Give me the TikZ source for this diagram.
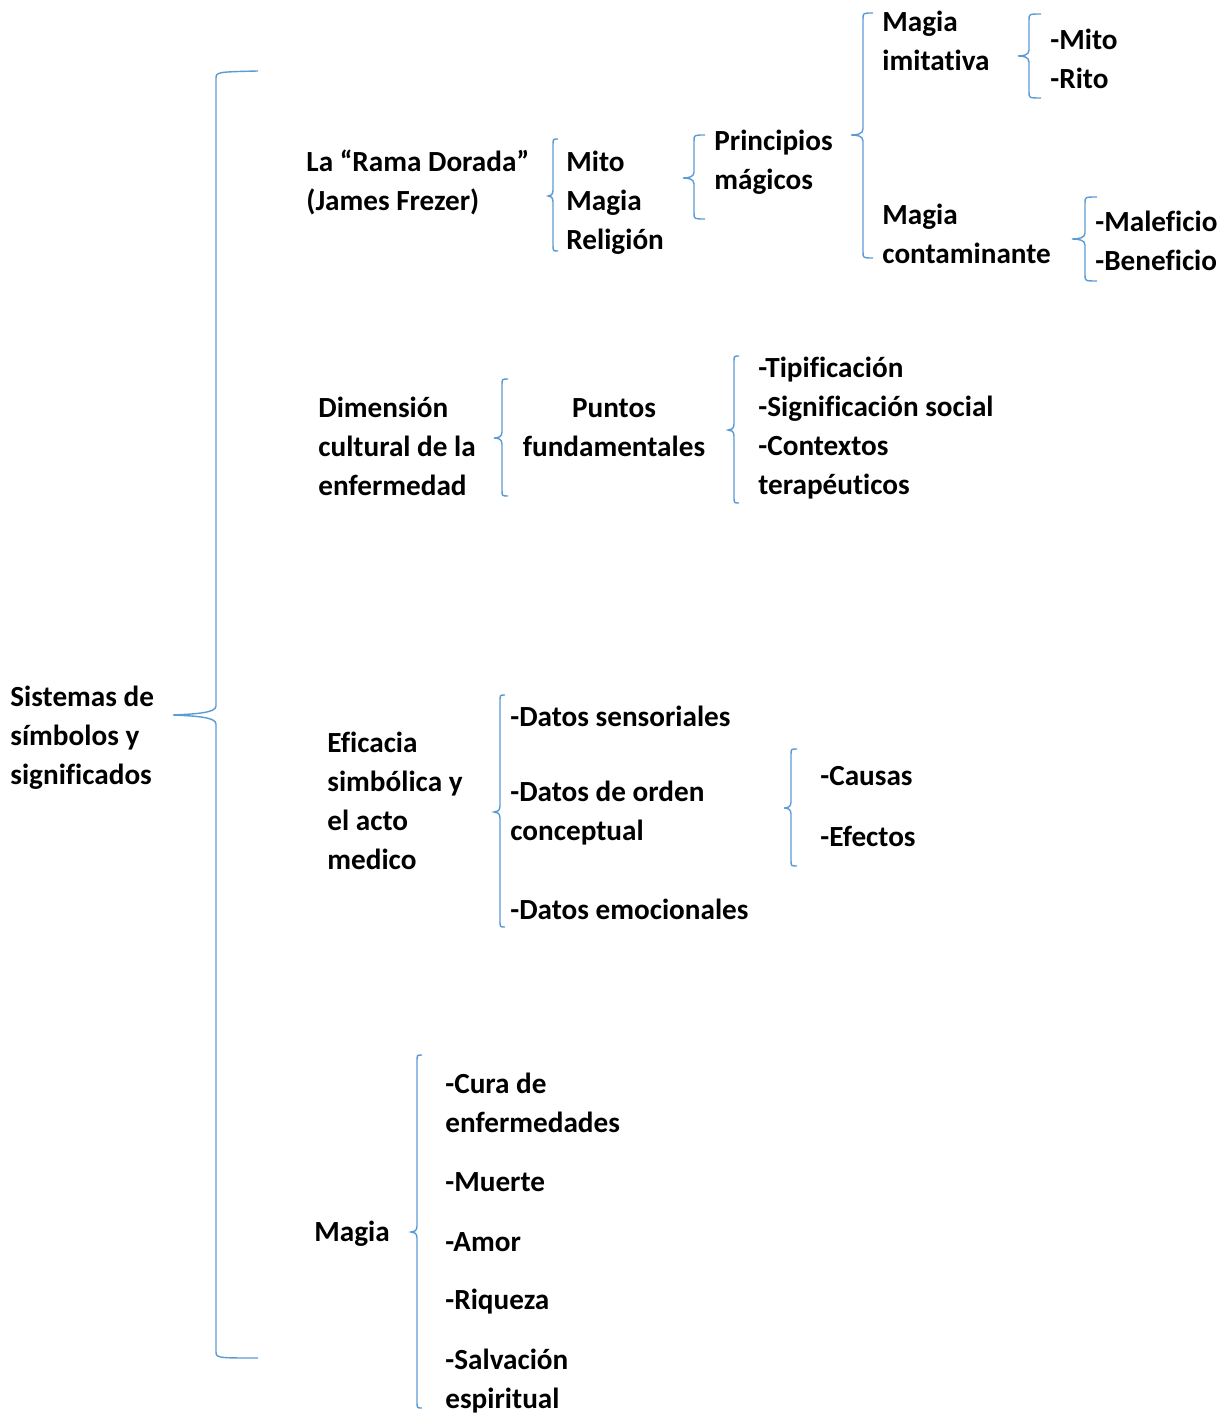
\documentclass[tikz,border=0pt]{standalone}
\usepackage{fontspec}
\setmainfont[Ligatures=NoCommon]{Carlito}
\usetikzlibrary{positioning}
\definecolor{wordblue}{RGB}{91,155,213}
% #1 line x, #2 top y, #3 bottom y, #4 tip y, #5 tip x, #6 end x
\newcommand{\wbrace}[6]{%
  \draw[brace] (#6,#2) .. controls (#1,#2) .. (#1,#2+6)
    -- (#1,#4-6) .. controls (#1,#4-1) and (#1/2+#5/2,#4) .. (#5,#4)
    .. controls (#1/2+#5/2,#4) and (#1,#4+1) .. (#1,#4+6)
    -- (#1,#3-6) .. controls (#1,#3) .. (#6,#3);}

\begin{document}
\begin{tikzpicture}
[x=0.5pt, y=-0.5pt,
every node/.style={font=\fontsize{14.6}{19.5}\selectfont\bfseries, align=left, inner sep=0pt, anchor=west},
brace/.style={draw=wordblue, line width=0.7pt}
]
  \useasboundingbox (0,0) rectangle (1223,1416);

  \node (root)   at (10,738)   {Sistemas de\\símbolos y\\significados};

  % rama dorada
  \node (rama)   at (306,182)  {La “Rama Dorada”\\(James Frezer)};
  \node (mmr)    at (566,203)  {Mito\\Magia\\Religión};
  \node (princ)  at (714,162)  {Principios\\mágicos};
  \node (imit)   at (882,41)   {Magia\\imitativa};
  \node (mitrit) at (1050,59)  {-Mito\\-Rito};
  \node (cont)   at (882,234)  {Magia\\contaminante};
  \node (malben) at (1095,241) {-Maleficio\\-Beneficio};

  % dimension cultural
  \node (dim)    at (318,446)  {Dimensión\\cultural de la\\enfermedad};
  \node[anchor=center, align=center] (puntos) at (614,428) {Puntos\\fundamentales};
  \node (tipif)  at (758,428)  {-Tipificación\\-Significación social\\-Contextos\\terapéuticos};

  % eficacia simbolica
  \node (efic)   at (327,801)  {Eficacia\\simbólica y\\el acto\\medico};
  \node (sens)   at (510,716)  {-Datos sensoriales};
  \node (conc)   at (510,813)  {-Datos de orden\\conceptual};
  \node (emoc)   at (510,909)  {-Datos emocionales};
  \node (causas) at (820,776)  {-Causas};
  \node (efect)  at (820,836)  {-Efectos};

  % magia
  \node (magia)  at (314,1234) {Magia};
  \node (cura)   at (445,1103) {-Cura de\\enfermedades};
  \node (muerte) at (445,1182) {-Muerte};
  \node (amor)   at (445,1242) {-Amor};
  \node (riq)    at (445,1302) {-Riqueza};
  \node (salv)   at (445,1381) {-Salvación\\espiritual};

  % braces
  \draw[brace] (258,71) .. controls (216,72) .. (216,79)
    -- (216,706) .. controls (216,713) and (195,714) .. (173,715)
    .. controls (195,716) and (216,717) .. (216,724)
    -- (216,1351) .. controls (216,1358) .. (258,1358);
  \wbrace{553}{139}{251}{196}{548}{558}
  \wbrace{694}{135}{219}{178}{683}{705}
  \wbrace{863}{13}{258}{135}{851}{873}
  \wbrace{1029}{14}{98}{56}{1018}{1041}
  \wbrace{1085}{197}{281}{239}{1072}{1097}
  \wbrace{502}{379}{496}{438}{494}{508}
  \wbrace{734}{356}{503}{430}{728}{739}
  \wbrace{500}{695}{927}{812}{494}{505}
  \wbrace{791}{749}{866}{808}{784}{797}
  \wbrace{417}{1055}{1408}{1232}{411}{422}
\end{tikzpicture}
\end{document}
